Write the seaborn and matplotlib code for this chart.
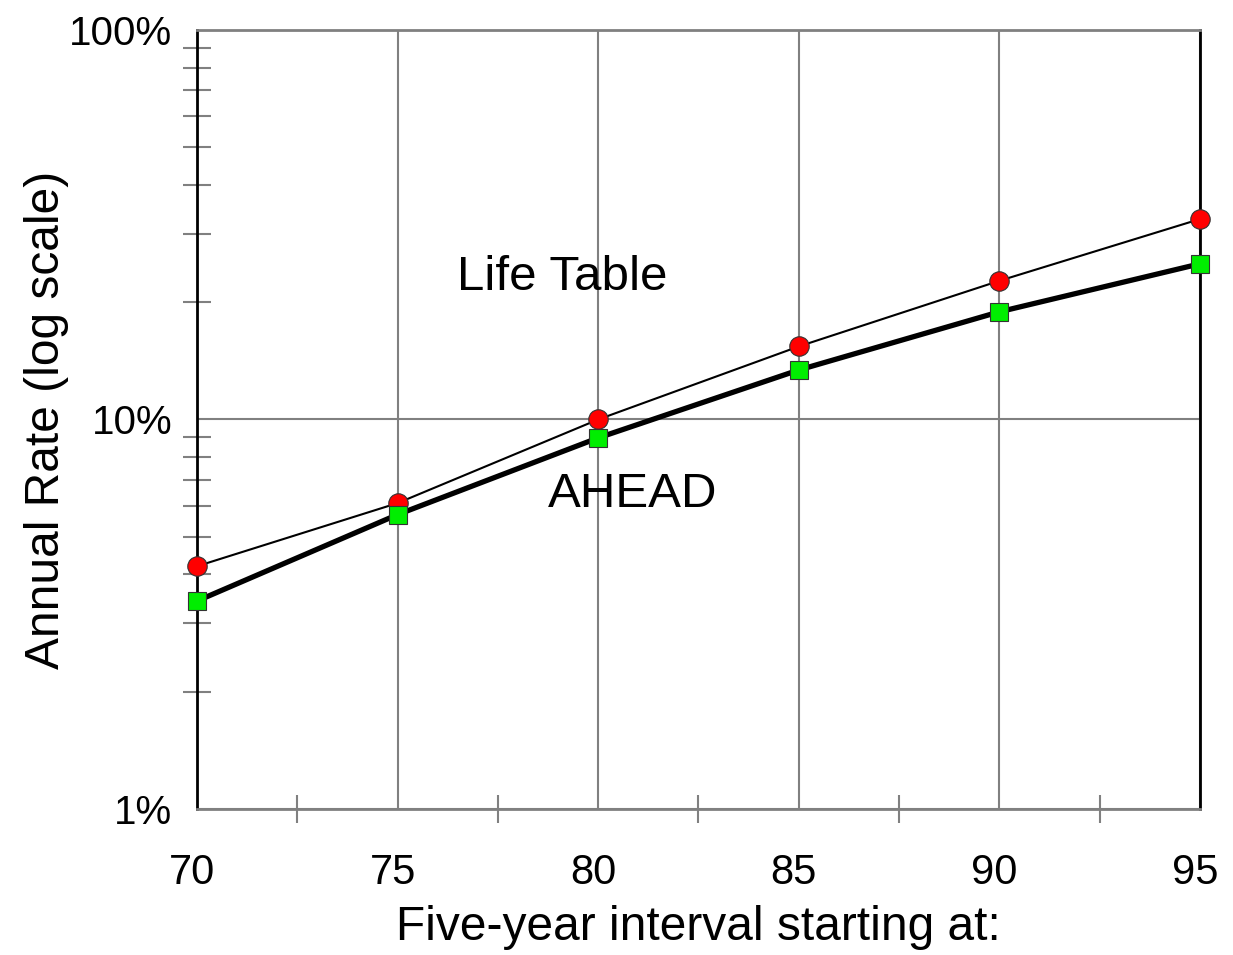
import matplotlib
matplotlib.use("Agg")
import matplotlib.pyplot as plt
import matplotlib.ticker as mticker
import matplotlib.transforms as mtransforms
import seaborn as sns
import pandas as pd

# Annual rates (%) by five-year interval starting age
ages = [70, 75, 80, 85, 90, 95]
life_table = [4.2, 6.1, 10.0, 15.4, 22.7, 32.7]
ahead = [3.42, 5.7, 8.97, 13.4, 18.9, 25.1]
x_ticks = [70, 75, 80, 85, 90, 95]
y_ticks = [1, 10, 100]
y_tick_labels = ["1%", "10%", "100%"]

sns.set_theme(style="white")
plt.rcParams["font.family"] = ["Liberation Sans", "DejaVu Sans"]

df = pd.DataFrame({"age": ages, "Life Table": life_table, "AHEAD": ahead})

fig = plt.figure(figsize=(12.33, 9.55), dpi=100)
ax = fig.add_axes([0.1598, 0.1529, 0.8134, 0.8157])

grid_col = "#808080"

sns.lineplot(data=df, x="age", y="Life Table", ax=ax, color="black", lw=1.5,
             marker="o", markersize=14, markerfacecolor="#ff0000",
             markeredgecolor="#333333", markeredgewidth=0.8, zorder=4, clip_on=False)
sns.lineplot(data=df, x="age", y="AHEAD", ax=ax, color="black", lw=3.8,
             marker="s", markersize=13.5, markerfacecolor="#00ee00",
             markeredgecolor="#333333", markeredgewidth=0.8, zorder=5, clip_on=False)

ax.set_yscale("log")
ax.set_xlim(70, 95)
ax.set_ylim(1, 100)

ax.set_xticks(x_ticks)
ax.set_xticklabels([str(v) for v in x_ticks])
ax.xaxis.set_minor_locator(mticker.MultipleLocator(2.5))
ax.set_yticks(y_ticks)
ax.set_yticklabels(y_tick_labels)
ax.yaxis.set_minor_locator(mticker.LogLocator(base=10, subs=range(2, 10)))
ax.yaxis.set_minor_formatter(mticker.NullFormatter())

ax.grid(True, which="major", color=grid_col, lw=1.5, zorder=0)
ax.set_axisbelow(True)

ax.tick_params(axis="x", which="major", direction="out", length=10, width=1.5,
               color=grid_col, labelsize=30, pad=22, labelcolor="black")
ax.tick_params(axis="x", which="minor", direction="inout", length=20, width=1.5,
               color=grid_col, bottom=True)
ax.tick_params(axis="y", which="major", direction="out", length=10, width=1.5,
               color=grid_col, labelsize=29, pad=8, labelcolor="black")
ax.tick_params(axis="y", which="minor", direction="inout", length=20, width=1.5,
               color=grid_col, left=True)

# nudge the age labels slightly left of their ticks
shift = mtransforms.ScaledTranslation(-5 / 100, 0, fig.dpi_scale_trans)
for lbl in ax.get_xticklabels():
    lbl.set_transform(lbl.get_transform() + shift)

for side in ["top", "bottom"]:
    ax.spines[side].set_color(grid_col)
    ax.spines[side].set_linewidth(2)
for side in ["left", "right"]:
    ax.spines[side].set_color("black")
    ax.spines[side].set_linewidth(2)

ax.set_xlabel("Five-year interval starting at:", fontsize=34.5, labelpad=8, color="black")
ax.set_ylabel("Annual Rate (log scale)", fontsize=34.5, labelpad=0, color="black")

ax.text(79.1, 23.2, "Life Table", fontsize=35.5, ha="center", va="center", color="black")
ax.text(80.85, 6.4, "AHEAD", fontsize=35.5, ha="center", va="center", color="black")

fig.savefig("out.png", dpi=100)
